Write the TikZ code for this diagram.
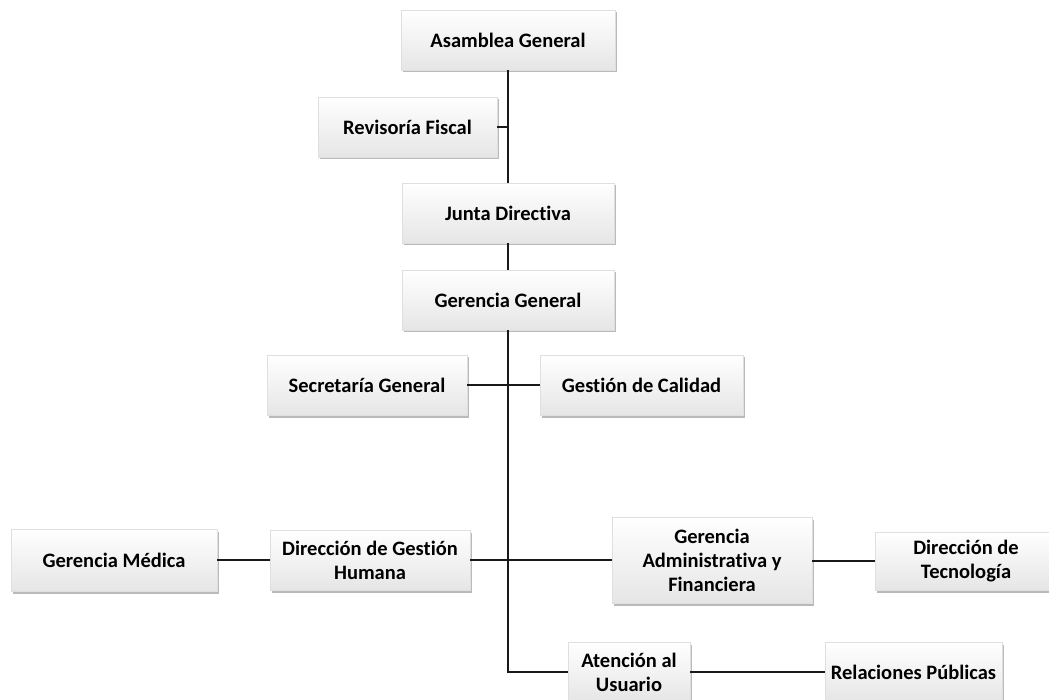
\documentclass[tikz,border=0pt]{standalone}
\usepackage{fontspec}
\setmainfont{Carlito}[Ligatures={NoCommon}]
\usetikzlibrary{shadows}
\tikzset{
  box/.style={rectangle, draw=gray!25, line width=0.4pt, top color=white, bottom color=gray!20,
    minimum height=60pt, align=center, inner sep=2pt,
    font=\fontsize{20.5}{24}\selectfont\bfseries, text=black,
    drop shadow={shadow xshift=1.5pt, shadow yshift=-2.5pt, opacity=0.45, fill=gray!80!black}},
  thin/.style={line width=1.1pt, draw=black!90},
  trunk/.style={line width=1.6pt, draw=black!90},
  thickline/.style={line width=2.4pt, draw=black!90}
}
\begin{document}
\begin{tikzpicture}[x=1pt,y=-1pt]
\useasboundingbox (0,0) rectangle (1049,700);
\fill[white] (0,0) rectangle (1049,700);
% nodes
\node[box, minimum width=214pt] (ag) at (508,40) {Asamblea General};
\node[box, minimum width=179pt] (rf) at (407.5,127) {Revisoría Fiscal};
\node[box, minimum width=212pt] (jd) at (508,213) {Junta Directiva};
\node[box, minimum width=212pt] (gg) at (508,300) {Gerencia General};
\node[box, minimum width=200pt] (sg) at (367,385) {Secretaría General};
\node[box, minimum width=203pt] (gc) at (641.5,385) {Gestión de Calidad};
\node[box, minimum width=206pt, minimum height=62pt] (gm) at (114,560) {Gerencia Médica};
\node[box, minimum width=200pt] (dgh) at (370,560) {Dirección de Gestión\\Humana};
\node[box, minimum width=200pt, minimum height=86pt] (gaf) at (712,560) {Gerencia\\Administrativa y\\Financiera};
\node[box, minimum width=182pt, minimum height=58pt] (dt) at (966,561) {Dirección de\\Tecnología};
\node[box, minimum width=122pt] (au) at (629,672) {Atención al\\Usuario};
\node[box, minimum width=177pt] (rp) at (913.5,672) {Relaciones Públicas};
% coordinates
\coordinate (rfj) at (508,127);
\coordinate (auj) at (508,672);
% connectors
\draw[trunk] (ag.south) -- (jd.north);
\draw[thin] (rf.east) -- (rfj);
\draw[trunk] (jd.south) -- (gg.north);
\draw[trunk] (gg.south) -- (auj) -- (au.west);
\draw[thin] (sg.east) -- (gc.west);
\draw[thin] (gm.east) -- (dgh.west);
\draw[thickline] (dgh.east) -- (gaf.west |- dgh.east);
\draw[thin] (gaf.east |- dt.west) -- (dt.west);
\draw[thin] (au.east) -- (rp.west);
\end{tikzpicture}
\end{document}
